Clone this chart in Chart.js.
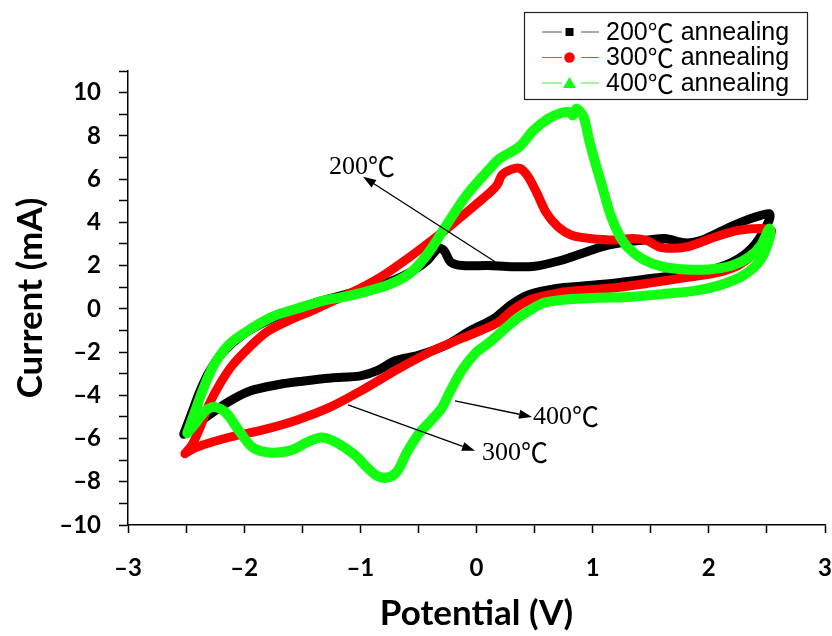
<!DOCTYPE html>
<html><head><meta charset="utf-8">
<script src="https://cdn.jsdelivr.net/npm/chart.js@4.4.0/dist/chart.umd.min.js"></script>
<style>html,body{margin:0;padding:0;background:#fff;}</style>
</head><body>
<canvas id="c" width="832" height="636"></canvas>
<script>
// ---------- data ----------
const seriesLabels = ['200\u2103 annealing', '300\u2103 annealing', '400\u2103 annealing'];

const potential200 = [-2.52,-2.45,-2.38,-2.3,-2.18,-2.0,-1.8,-1.6,-1.35,-1.1,-0.9,-0.7,-0.55,-0.42,-0.33,-0.28,-0.22,-0.12,0.1,0.3,0.5,0.7,0.9,1.1,1.3,1.5,1.62,1.8,1.95,2.15,2.35,2.52,
  2.52,2.4,2.25,2.05,1.8,1.5,1.2,0.9,0.7,0.45,0.3,0.15,-0.05,-0.25,-0.5,-0.7,-0.85,-1.0,-1.25,-1.5,-1.7,-1.95,-2.15,-2.35,-2.52];
const current200 = [-5.8,-4.8,-3.8,-2.9,-2.0,-1.15,-0.55,-0.1,0.35,0.7,1.0,1.35,1.75,2.25,2.8,2.7,2.15,2.0,2.0,1.95,1.97,2.2,2.55,2.9,3.1,3.2,3.25,3.05,3.2,3.7,4.15,4.4,
  4.1,3.0,2.3,1.85,1.6,1.4,1.2,1.05,0.95,0.65,0.2,-0.45,-1.0,-1.65,-2.15,-2.4,-2.85,-3.1,-3.2,-3.35,-3.5,-3.8,-4.35,-5.1,-5.8];

const potential300 = [-2.51,-2.45,-2.38,-2.3,-2.2,-2.1,-1.95,-1.8,-1.6,-1.4,-1.2,-1.0,-0.8,-0.6,-0.4,-0.2,0.0,0.12,0.18,0.22,0.3,0.37,0.44,0.52,0.6,0.7,0.82,0.98,1.18,1.35,1.47,1.58,1.8,2.04,2.24,2.44,2.54,
  2.5,2.38,2.25,2.05,1.8,1.5,1.23,0.9,0.72,0.46,0.3,0.18,-0.12,-0.4,-0.68,-0.98,-1.26,-1.55,-1.84,-2.12,-2.41,-2.51];
const current300 = [-6.7,-6.3,-5.5,-4.4,-3.4,-2.6,-1.75,-1.05,-0.5,-0.05,0.45,0.95,1.55,2.3,3.1,3.95,4.85,5.4,5.75,6.2,6.45,6.5,6.15,5.35,4.45,3.8,3.4,3.25,3.18,3.25,3.15,2.85,2.85,3.3,3.62,3.72,3.62,
  3.2,2.5,2.0,1.65,1.45,1.2,1.0,0.85,0.75,0.42,-0.1,-0.65,-1.35,-2.0,-2.8,-3.75,-4.55,-5.15,-5.6,-5.93,-6.4,-6.7];

const potential400 = [-2.49,-2.41,-2.33,-2.25,-2.12,-1.95,-1.75,-1.55,-1.3,-1.1,-0.85,-0.68,-0.55,-0.4,-0.25,-0.08,0.1,0.2,0.37,0.49,0.62,0.72,0.8,0.83,0.86,0.92,0.97,1.02,1.08,1.15,1.22,1.3,1.43,1.6,1.8,2.0,2.2,2.35,2.45,2.52,
  2.53,2.45,2.3,2.1,1.9,1.6,1.3,1.0,0.75,0.58,0.45,0.35,0.25,0.1,0.0,-0.12,-0.23,-0.3,-0.38,-0.5,-0.6,-0.68,-0.76,-0.85,-0.95,-1.05,-1.2,-1.33,-1.45,-1.6,-1.78,-1.93,-2.05,-2.15,-2.25,-2.33,-2.42,-2.49];
const current400 = [-5.75,-4.55,-3.4,-2.5,-1.6,-0.95,-0.35,0.0,0.4,0.6,0.95,1.3,1.75,2.7,3.95,5.3,6.4,6.95,7.5,8.25,8.8,9.05,9.1,8.95,9.25,8.9,7.8,6.8,5.7,4.4,3.5,2.85,2.3,1.95,1.82,1.82,2.0,2.4,2.95,3.7,
  3.4,2.3,1.55,1.1,0.85,0.68,0.55,0.5,0.42,0.28,-0.1,-0.45,-0.9,-1.6,-2.0,-2.8,-3.85,-4.6,-5.1,-5.8,-6.65,-7.5,-7.8,-7.75,-7.3,-6.75,-6.2,-5.95,-6.15,-6.55,-6.65,-6.4,-5.6,-4.85,-4.55,-4.7,-5.3,-5.75];

const xTickLabels = [-3, -2, -1, 0, 1, 2, 3];
const yTickLabels = [-10, -8, -6, -4, -2, 0, 2, 4, 6, 8, 10];

// annotation labels with arrows (data coordinates)
const annotationLabels = ['200\u2103', '300\u2103', '400\u2103'];
const annotationTextAt = [[-1.27, 6.55], [0.047, -6.67], [0.486, -5.0]];
const arrowTail = [[0.16, 2.18], [-1.106, -4.44], [-0.185, -4.26]];
const arrowHead = [[-0.977, 6.11], [-0.013, -6.57], [0.478, -5.0]];

// ---------- helpers ----------
const toPts = (xs, ys) => xs.map((x, i) => ({x: x, y: ys[i]}));
const fmt = v => (v < 0 ? '\u2013' + Math.abs(v) : String(v));
const seriesColors = ['#000000', '#ff0000', '#12ff12'];
const legendLineColors = ['#555555', '#ff4040', '#40ee40'];

// draw text where the degree-Celsius sign uses a CJK font
function drawMixed(ctx, text, x, y, baseFont, cjkFont) {
  const parts = text.split('\u2103');
  let cx = x;
  parts.forEach((p, i) => {
    ctx.font = baseFont; ctx.fillText(p, cx, y); cx += ctx.measureText(p).width;
    if (i < parts.length - 1) {
      ctx.font = cjkFont; ctx.fillText('\u2103', cx, y); cx += ctx.measureText('\u2103').width;
    }
  });
}

const overlayPlugin = {
  id: 'overlay',
  afterDraw(chart) {
    const ctx = chart.ctx;
    const xs = chart.scales.x, ys = chart.scales.y;
    ctx.save();
    // annotations
    ctx.strokeStyle = '#000'; ctx.fillStyle = '#000'; ctx.lineWidth = 1.3;
    for (let i = 0; i < annotationLabels.length; i++) {
      const x1 = xs.getPixelForValue(arrowTail[i][0]), y1 = ys.getPixelForValue(arrowTail[i][1]);
      const x2 = xs.getPixelForValue(arrowHead[i][0]), y2 = ys.getPixelForValue(arrowHead[i][1]);
      const ang = Math.atan2(y2 - y1, x2 - x1);
      const hl = 13, hw = 4.5;
      const bx = x2 - hl * Math.cos(ang), by = y2 - hl * Math.sin(ang);
      ctx.beginPath(); ctx.moveTo(x1, y1); ctx.lineTo(bx, by); ctx.stroke();
      ctx.beginPath();
      ctx.moveTo(x2, y2);
      ctx.lineTo(bx + hw * Math.sin(ang), by - hw * Math.cos(ang));
      ctx.lineTo(bx - hw * Math.sin(ang), by + hw * Math.cos(ang));
      ctx.closePath(); ctx.fill();
      ctx.textBaseline = 'middle'; ctx.textAlign = 'left';
      drawMixed(ctx, annotationLabels[i], xs.getPixelForValue(annotationTextAt[i][0]), ys.getPixelForValue(annotationTextAt[i][1]),
        '26px "Liberation Serif", serif', '27px "Noto Sans CJK SC", sans-serif');
    }
    // legend
    ctx.lineWidth = 1.2; ctx.strokeStyle = '#222';
    ctx.strokeRect(524.5, 12.5, 283, 87);
    const rowY = [32, 57.5, 83];
    chart.data.datasets.forEach((ds, i) => {
      const y = rowY[i];
      ctx.strokeStyle = legendLineColors[i]; ctx.lineWidth = 1;
      ctx.beginPath(); ctx.moveTo(542, y); ctx.lineTo(562, y); ctx.moveTo(581, y); ctx.lineTo(599, y); ctx.stroke();
      ctx.fillStyle = ds.borderColor;
      const mx = 569.5;
      if (i === 0) { ctx.fillRect(mx - 4, y - 4, 8, 8); }
      else if (i === 1) { ctx.beginPath(); ctx.arc(mx, y, 5.2, 0, Math.PI * 2); ctx.fill(); }
      else { ctx.beginPath(); ctx.moveTo(mx, y - 6); ctx.lineTo(mx + 6.5, y + 5); ctx.lineTo(mx - 6.5, y + 5); ctx.closePath(); ctx.fill(); }
      ctx.fillStyle = '#000';
      ctx.textBaseline = 'middle'; ctx.textAlign = 'left';
      drawMixed(ctx, ds.label, 606, y + 1, '25px "Liberation Sans", sans-serif', '26px "Noto Sans CJK SC", sans-serif');
    });
    ctx.restore();
  }
};

const mkDs = (i, xs, ys, order, width) => ({
  label: seriesLabels[i],
  data: toPts(xs, ys),
  showLine: true,
  borderColor: seriesColors[i],
  backgroundColor: seriesColors[i],
  borderWidth: width,
  pointRadius: 0,
  tension: 0.3,
  borderJoinStyle: 'round',
  borderCapStyle: 'round',
  order: order
});

const tickFont = {family: 'Lato', weight: 'bold', size: 24};

new Chart(document.getElementById('c'), {
  type: 'scatter',
  data: {
    datasets: [
      mkDs(0, potential200, current200, 3, 9),
      mkDs(1, potential300, current300, 2, 9),
      mkDs(2, potential400, current400, 1, 10)
    ]
  },
  options: {
    responsive: false,
    animation: false,
    devicePixelRatio: 1,
    layout: {padding: {top: 71, right: 7, left: 0, bottom: 0}},
    plugins: {legend: {display: false}, tooltip: {enabled: false}},
    scales: {
      x: {
        type: 'linear', min: -3, max: 3,
        afterFit(s) { s.height = 111; s.paddingRight = 0; s.paddingLeft = 0; },
        ticks: {
          stepSize: 0.5, autoSkip: false, maxRotation: 0, color: '#000', font: tickFont, padding: 21,
          callback: v => (xTickLabels.includes(v) ? fmt(v) : '')
        },
        grid: {display: true, drawOnChartArea: false, drawTicks: true, tickLength: 8, tickColor: '#000', tickWidth: 1.5},
        border: {display: true, color: '#000', width: 1.5},
        title: {display: true, text: 'Potential (V)', color: '#000', font: {family: 'Lato', weight: 'bold', size: 35, lineHeight: 1.2}, padding: {top: 0, bottom: 1}}
      },
      y: {
        type: 'linear', min: -10, max: 11,
        afterFit(s) { s.width = 128; },
        ticks: {
          stepSize: 1, autoSkip: false, color: '#000', font: tickFont, padding: 18,
          callback: v => (yTickLabels.includes(v) ? fmt(v) : '')
        },
        grid: {display: true, drawOnChartArea: false, drawTicks: true, tickLength: 9, tickColor: '#000', tickWidth: 1.5},
        border: {display: true, color: '#000', width: 1.5},
        title: {display: true, text: 'Current (mA)', color: '#000', font: {family: 'Lato', weight: 'bold', size: 35, lineHeight: 1.2}, padding: {top: 10, bottom: 0}}
      }
    }
  },
  plugins: [overlayPlugin]
});
</script>
</body></html>
